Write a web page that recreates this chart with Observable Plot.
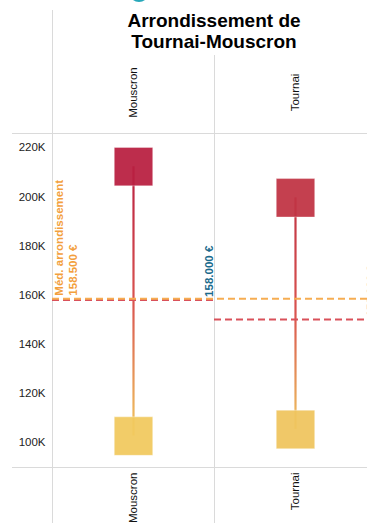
<!DOCTYPE html>
<html>
<head>
<meta charset="utf-8">
<script src="https://cdn.jsdelivr.net/npm/d3@7"></script>
<script src="https://cdn.jsdelivr.net/npm/@observablehq/plot@0.6"></script>
<style>
  html, body { margin: 0; padding: 0; background: #fff; overflow: hidden; }
  #wrap { position: relative; width: 367px; height: 523px; overflow: hidden; }
  #title { position: absolute; left: 52px; top: 10px; width: 324px; text-align: center;
    font-family: "Liberation Sans", Arial, sans-serif; font-weight: bold; font-size: 19px; line-height: 21px; color: #000; z-index: 2; }
  #badge { position: absolute; left: 129px; top: -18px; width: 20px; height: 20px; border-radius: 50%; background: #27a8ba; z-index: 2; }
  #chart { position: absolute; left: 0; top: 0; width: 380px; height: 523px; }
  #chart svg { max-width: none !important; width: 380px !important; height: 523px !important; }
</style>
</head>
<body>
<div id="wrap">
  <div id="badge"></div>
  <div id="title">Arrondissement de<br>Tournai-Mouscron</div>
  <div id="chart"></div>
</div>
<script>
// ---- data ----
const districts = ["Mouscron", "Tournai"];
const maxPrices = [212300, 199600];
const minPrices = [102500, 105200];
const communeMedians = [158000, 150000];
const communeMedianLabels = ["158.000 €", "150.000 €"];
const arrondissementMedian = 158500;
const arrondissementLabel = "Méd. arrondissement\n158.500 €";
const yTicks = [100000, 120000, 140000, 160000, 180000, 200000, 220000];
const yDomain = [89700, 225800];

// ---- layout ----
const W = 380, H = 523, mL = 52, mR = 4, mT = 133, mB = 56;
const bw = (W - mL - mR) / districts.length;

const rows = districts.map((d, i) => ({
  district: d, max: maxPrices[i], min: minPrices[i],
  median: communeMedians[i], label: communeMedianLabels[i]
}));
const points = rows.flatMap(r => [
  {district: r.district, value: r.max},
  {district: r.district, value: r.min}
]);

const grid = "#dadada";
const dash = "7,4";

const plot = Plot.plot({
  width: W, height: H,
  marginLeft: mL, marginRight: mR, marginTop: mT, marginBottom: mB,
  style: {fontFamily: "Liberation Sans, Arial, sans-serif", fontSize: "11.5px", color: "#222", background: "white", overflow: "visible", maxWidth: "none"},
  x: {type: "band", domain: districts, padding: 0, axis: null},
  y: {domain: yDomain, ticks: yTicks, tickFormat: d => `${d / 1000}K`, tickSize: 0, tickPadding: 7, label: null},
  color: {type: "linear", domain: [100000, 215000], range: ["#f2cd60", "#b81c40"], interpolate: "rgb"},
  marks: [
    // frame top/bottom lines
    Plot.ruleY(yDomain, {stroke: grid, strokeWidth: 1, insetLeft: -40, insetRight: -4}),
    // band separators
    Plot.ruleX([districts[0]], {x: d => d, dx: -bw / 2, stroke: grid, insetTop: -(mT - 10), insetBottom: -mB}),
    Plot.ruleX(districts.slice(1), {x: d => d, dx: -bw / 2, stroke: grid, insetTop: -(mT - 55), insetBottom: -mB}),
    Plot.ruleX(districts.slice(-1), {x: d => d, dx: bw / 2, stroke: grid, insetTop: -(mT - 55), insetBottom: -mB}),
    // range lines
    ...rows.map((r, i) => Plot.ruleX([r], {x: "district", y1: "min", y2: "max", stroke: `url(#grad-${i})`, strokeWidth: 2.2})),
    // squares
    Plot.dot(points, {x: "district", y: "value", fill: "value", symbol: "square", r: 21.7, fillOpacity: 0.94, stroke: "#fff", strokeOpacity: 0.35, strokeWidth: 1}),
    // commune medians
    Plot.tickY(rows, {x: "district", y: "median", stroke: "#d9515a", strokeWidth: 2, strokeDasharray: dash}),
    // arrondissement median
    Plot.ruleY([arrondissementMedian], {stroke: "#f6ad52", strokeWidth: 2, strokeDasharray: dash}),
    // labels
    Plot.text(rows, {x: "district", y: "median", text: "label", rotate: -90, textAnchor: "start", lineAnchor: "bottom",
      dx: bw / 2 - 2, dy: -3, fill: "#1a6a8c", fontWeight: "bold", fontSize: 11.5}),
    Plot.text([arrondissementLabel], {x: () => districts[0], y: () => arrondissementMedian, text: d => d, rotate: -90,
      textAnchor: "start", lineAnchor: "top", lineHeight: 1.22, dx: -bw / 2 + 1, dy: -3, fill: "#f39f3d", fontWeight: "bold", fontSize: 11.5}),
    // band labels
    Plot.text(districts, {x: d => d, text: d => d, frameAnchor: "top", dy: -41, rotate: -90, textAnchor: "middle", lineAnchor: "middle", fill: "#111", fontSize: 11.5}),
    Plot.text(districts, {x: d => d, text: d => d, frameAnchor: "bottom", dy: 5, rotate: -90, textAnchor: "end", lineAnchor: "middle", fill: "#111", fontSize: 11.5})
  ]
});

// gradients for the range lines, positioned with the plot's own scales
const ys = plot.scale("y"), cs = plot.scale("color");
const svg = d3.select(plot.tagName.toLowerCase() === "svg" ? plot : plot.querySelector("svg"));
const defs = svg.insert("defs", ":first-child");
rows.forEach((r, i) => {
  const g = defs.append("linearGradient").attr("id", `grad-${i}`).attr("gradientUnits", "userSpaceOnUse")
    .attr("x1", 0).attr("x2", 0).attr("y1", ys.apply(r.max)).attr("y2", ys.apply(r.min));
  g.append("stop").attr("offset", 0).attr("stop-color", cs.apply(r.max));
  g.append("stop").attr("offset", 0.5).attr("stop-color", "#d9534f");
  g.append("stop").attr("offset", 1).attr("stop-color", cs.apply(r.min));
});

document.getElementById("chart").appendChild(plot);
</script>
</body>
</html>
